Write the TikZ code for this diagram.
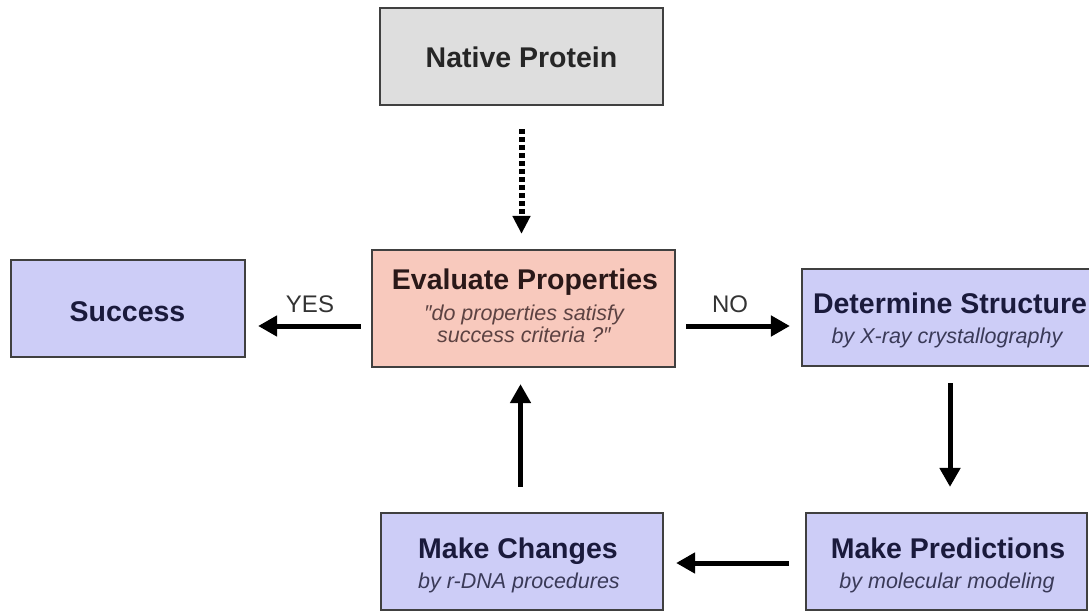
\documentclass[tikz,border=0pt]{standalone}
\usepackage{fontspec}
\setmainfont{Liberation Sans}
\usetikzlibrary{arrows.meta}
\definecolor{grayfill}{HTML}{DEDEDE}
\definecolor{lavfill}{HTML}{CDCDF7}
\definecolor{pinkfill}{HTML}{F8C9BD}
\definecolor{edge}{HTML}{404040}
\definecolor{navy}{HTML}{1A1A3C}
\definecolor{subnavy}{HTML}{3A3A58}
\definecolor{darkbrown}{HTML}{2A1818}
\definecolor{subbrown}{HTML}{5C4242}
\tikzset{
  boxnode/.style={draw=edge, line width=2.2pt, rectangle, inner sep=0pt},
  ttl/.style={font=\fontsize{28.5}{30}\selectfont\bfseries, anchor=base, inner sep=0pt},
  sub/.style={font=\fontsize{21.5}{24}\selectfont\itshape, anchor=base, inner sep=0pt},
  arr/.style={line width=5pt, -{Triangle[length=19pt,width=20pt]}},
  dotarr/.style={line width=6pt, dash pattern=on 5pt off 3pt, -{Triangle[length=18pt,width=17pt]}},
  lbl/.style={font=\fontsize{24}{26}\selectfont, text=black!80, anchor=base, inner sep=0pt}
}
\begin{document}
\begin{tikzpicture}[x=1pt,y=-1pt]
\useasboundingbox[fill=white] (0,0) rectangle (1089,612);

% boxes
\node[boxnode, fill=grayfill, minimum width=283pt, minimum height=97pt] (np) at (521.5,56.5) {};
\node[boxnode, fill=pinkfill, minimum width=303pt, minimum height=117pt] (eval) at (523.5,308.5) {};
\node[boxnode, fill=lavfill, minimum width=234pt, minimum height=97pt] (succ) at (128,308.5) {};
\node[boxnode, fill=lavfill, minimum width=298pt, minimum height=97pt] (det) at (951,317.5) {};
\node[boxnode, fill=lavfill, minimum width=281pt, minimum height=97pt] (pred) at (946.5,561.5) {};
\node[boxnode, fill=lavfill, minimum width=282pt, minimum height=97pt] (mc) at (522,561.5) {};

% texts
\node[ttl, text=black!85] (npt) at (521.5,68) {Native Protein};
\node[ttl, text=darkbrown] (evt) at (525,290) {Evaluate Properties};
\node[sub, text=subbrown] (evs1) at (524,320) {″do properties satisfy};
\node[sub, text=subbrown] (evs2) at (524,342) {success criteria ?″};
\node[ttl, text=navy] (sut) at (127.5,321) {Success};
\node[ttl, text=navy] (dett) at (950,313) {Determine Structure};
\node[sub, text=subnavy] (dets) at (947,343) {by X-ray crystallography};
\node[ttl, text=navy] (predt) at (948,558) {Make Predictions};
\node[sub, text=subnavy] (preds) at (947,588) {by molecular modeling};
\node[ttl, text=navy] (mct) at (518,558) {Make Changes};
\node[sub, text=subnavy] (mcs) at (519,588) {by r-DNA procedures};

% connectors
\draw[dotarr] ([yshift=-23pt]np.south) -- ([yshift=15pt]np.south |- eval.north);
\draw[arr] ([xshift=-10pt,yshift=-17.5pt]eval.west) -- ([xshift=12pt,yshift=-17.5pt]succ.east);
\draw[arr] ([xshift=10pt,yshift=-17.5pt]eval.east) -- ([xshift=-11pt,yshift=-8.5pt]det.west);
\draw[arr] ([xshift=-1pt,yshift=-16pt]det.south) -- ([xshift=3.5pt,yshift=25pt]pred.north);
\draw[arr] ([xshift=-16pt,yshift=-1.5pt]pred.west) -- ([xshift=12pt,yshift=-1.5pt]mc.east);
\draw[arr] ([xshift=-1.5pt,yshift=25pt]mc.north) -- ([xshift=-1.5pt,yshift=-16pt]mc.north |- eval.south);

% labels
\node[lbl] (yes) at (310,312) {YES};
\node[lbl] (no) at (730,312) {NO};
\end{tikzpicture}
\end{document}
